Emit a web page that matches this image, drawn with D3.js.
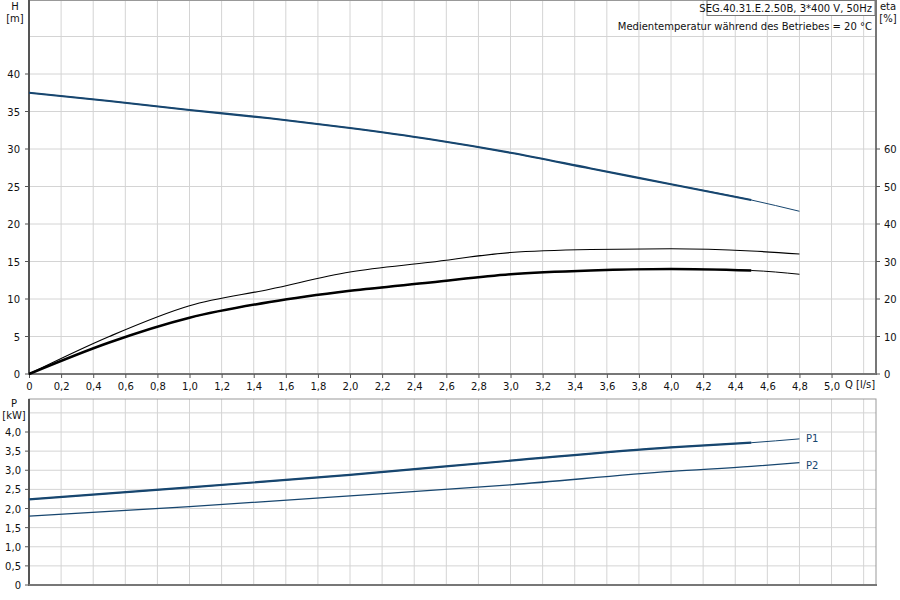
<!DOCTYPE html><html><head><meta charset="utf-8"><script src="https://cdn.jsdelivr.net/npm/d3@7"></script>
<style>body{margin:0;background:#fff}text{font-family:"DejaVu Sans",sans-serif;font-size:10px;fill:#111}</style></head><body><svg id="c" width="900" height="600"></svg><script>
const qTicks=["0","0,2","0,4","0,6","0,8","1,0","1,2","1,4","1,6","1,8","2,0","2,2","2,4","2,6","2,8","3,0","3,2","3,4","3,6","3,8","4,0","4,2","4,4","4,6","4,8","5,0"];
const hTicks=[0,5,10,15,20,25,30,35,40];
const etaTicks=[0,10,20,30,40,50,60];
const pTicks=["0","0,5","1,0","1,5","2,0","2,5","3,0","3,5","4,0"];
const qH=[0,0.5,1,1.5,2,2.5,3,3.5,4,4.5,4.8];
const H=[37.5,36.4,35.2,34.1,32.8,31.3,29.5,27.4,25.3,23.2,21.7];
const qE=[0,0.5,1,1.5,2,2.5,3,3.5,4,4.5,4.8];
const etaUpper=[0,10,18.2,22.6,27.2,29.8,32.4,33.2,33.4,32.8,32];
const etaLower=[0,8.4,15,19.2,22.2,24.4,26.6,27.6,28,27.6,26.6];
const qP=[0,1,2,3,4,4.5,4.8];
const P1=[2.24,2.55,2.88,3.25,3.6,3.72,3.82];
const P2=[1.8,2.05,2.33,3.62-1,2.97,3.1,3.2];
const svg=d3.select("#c");
const x=d3.scaleLinear().domain([0,5.277]).range([29,876]);
const yH=d3.scaleLinear().domain([0,40]).range([374,74]);
const yE=d3.scaleLinear().domain([0,80]).range([374,74]);
const yP=d3.scaleLinear().domain([0,4]).range([585,432]);
const grid="#d4d4d4";
// grids
const xs=d3.range(0,5.3,0.2);
function vgrid(y0,y1){svg.append("g").selectAll("line").data(xs.slice(1)).join("line").attr("x1",d=>x(d)).attr("x2",d=>x(d)).attr("y1",y0).attr("y2",y1).attr("stroke",grid);}
vgrid(0,374);vgrid(399,585);
svg.append("g").selectAll("line").data(d3.range(5,50,5)).join("line").attr("x1",29).attr("x2",876).attr("y1",d=>yH(d)).attr("y2",d=>yH(d)).attr("stroke",grid);
svg.append("g").selectAll("line").data(d3.range(0.5,4.6,0.5)).join("line").attr("x1",29).attr("x2",876).attr("y1",d=>yP(d)).attr("y2",d=>yP(d)).attr("stroke",grid);
// frames
svg.append("rect").attr("x",29).attr("y",0.5).attr("width",847).attr("height",373.5).attr("fill","none").attr("stroke","#999");
svg.append("rect").attr("x",29).attr("y",399).attr("width",847).attr("height",186).attr("fill","none").attr("stroke","#999");
svg.append("line").attr("x1",29).attr("x2",29).attr("y1",0).attr("y2",375).attr("stroke","#555").attr("stroke-width",2);
svg.append("line").attr("x1",28).attr("x2",877).attr("y1",374).attr("y2",374).attr("stroke","#777").attr("stroke-width",2);
svg.append("line").attr("x1",876).attr("x2",876).attr("y1",0).attr("y2",375).attr("stroke","#777").attr("stroke-width",2);
svg.append("line").attr("x1",29).attr("x2",29).attr("y1",399).attr("y2",586).attr("stroke","#555").attr("stroke-width",2);
svg.append("line").attr("x1",28).attr("x2",877).attr("y1",585).attr("y2",585).attr("stroke","#777").attr("stroke-width",2);
// axes labels
const xa=d3.axisBottom(x).tickValues(d3.range(0,26).map(i=>i*0.2)).tickFormat((d,i)=>qTicks[i]).tickSize(4);
svg.append("g").attr("transform","translate(0,374)").call(xa).call(g=>{g.select(".domain").remove();g.selectAll("line").attr("stroke","#555");g.selectAll("text").attr("dy","0.9em").style("font-size","10px");});
svg.append("g").selectAll("text").data(hTicks).join("text").attr("x",20).attr("y",d=>yH(d)+4).attr("text-anchor","end").text(d=>d);
svg.append("g").selectAll("line").data(hTicks).join("line").attr("x1",25).attr("x2",29).attr("y1",d=>yH(d)).attr("y2",d=>yH(d)).attr("stroke","#555");
svg.append("g").selectAll("text").data(etaTicks).join("text").attr("x",884).attr("y",d=>yE(d)+4).text(d=>d);
svg.append("g").selectAll("line").data(etaTicks).join("line").attr("x1",876).attr("x2",880).attr("y1",d=>yE(d)).attr("y2",d=>yE(d)).attr("stroke","#555");
svg.append("g").selectAll("text").data(pTicks).join("text").attr("x",21).attr("y",(d,i)=>yP(i*0.5)+4).attr("text-anchor","end").text(d=>d);
svg.append("g").selectAll("line").data(pTicks).join("line").attr("x1",25).attr("x2",29).attr("y1",(d,i)=>yP(i*0.5)).attr("y2",(d,i)=>yP(i*0.5)).attr("stroke","#555");
const T=(t,xx,yy,a)=>svg.append("text").attr("x",xx).attr("y",yy).attr("text-anchor",a||"start").text(t);
T("H",15,10,"middle");T("[m]",15,22,"middle");T("eta",888,10,"middle");T("[%]",888,22,"middle");
T("P",14,407,"middle");T("[kW]",14,419,"middle");T("Q [l/s]",845,388);
svg.append("rect").attr("x",707).attr("y",0.5).attr("width",168).attr("height",15).attr("fill","#fff").attr("stroke","#777");
T("SEG.40.31.E.2.50B, 3*400 V, 50Hz",872,12,"end");
T("Medientemperatur während des Betriebes = 20 °C",872,30,"end");
// curves
const navy="#17466f";
function curve(qs,vs,ys,cut,col,w1,w2){
  const pts=qs.map((q,i)=>[x(q),ys(vs[i])]);
  const l=d3.line().curve(d3.curveMonotoneX);
  svg.append("path").attr("d",l(pts)).attr("fill","none").attr("stroke",col).attr("stroke-width",w2);
  if(cut!=null){const k=qs.indexOf(cut);svg.append("path").attr("d",l(pts.slice(0,k+1))).attr("fill","none").attr("stroke",col).attr("stroke-width",w1);}
}
curve(qH,H,yH,4.5,navy,2.2,1);
curve(qE,etaUpper,yE,null,"#000",1,1.2);
curve(qE,etaLower,yE,4.5,"#000",2.5,1);
curve(qP,P1,yP,4.5,navy,2.2,1);
curve(qP,P2,yP,null,navy,1,1.3);
svg.append("text").attr("x",806).attr("y",yP(3.82)+3).style("fill",navy).text("P1");
svg.append("text").attr("x",806).attr("y",yP(3.2)+6).style("fill",navy).text("P2");
</script></body></html>
